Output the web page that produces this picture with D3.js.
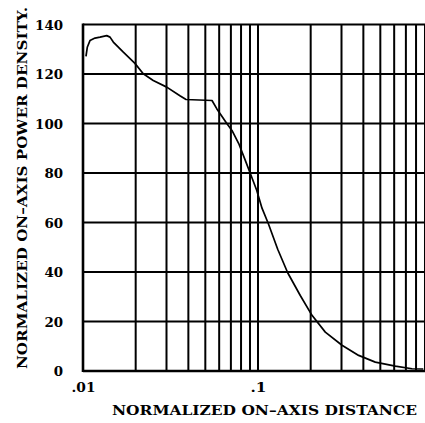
<!DOCTYPE html>
<html>
<head>
<meta charset="utf-8">
<script src="https://cdn.jsdelivr.net/npm/d3@7"></script>
<style>
  html, body { margin: 0; padding: 0; background: #fff; }
  svg { display: block; }
  .tick text { font-family: "DejaVu Serif", serif; font-weight: bold; fill: #000; }
</style>
</head>
<body>
<svg id="chart" width="425" height="423"></svg>
<script>
// Normalized on-axis distance (log scale) and normalized power density
const distance = [0.01040, 0.01058, 0.01096, 0.01171, 0.01251, 0.01366, 0.01427, 0.01490,
  0.01700, 0.01980, 0.02210, 0.02520, 0.03010, 0.03580, 0.03880, 0.05460, 0.05810,
  0.06650, 0.07100, 0.07760, 0.08460, 0.09200, 0.09830, 0.1054, 0.1145, 0.1296,
  0.1478, 0.1744, 0.2035, 0.2424, 0.302, 0.376, 0.468, 0.609, 0.759, 0.880];
const density = [127.1, 130.8, 133.5, 134.5, 134.9, 135.5, 134.9, 132.9,
  128.8, 124.3, 120.1, 117.4, 114.7, 111.2, 109.7, 109.3, 106.0,
  99.9, 97.2, 91.9, 85.1, 78.4, 73.0, 65.8, 59.6, 49.2,
  39.7, 30.5, 22.5, 15.7, 10.4, 6.3, 3.6, 2.0, 0.9, 0.8];

// Grid positions and tick labels
const xGrid = [0.02, 0.03, 0.04, 0.05, 0.06, 0.07, 0.08, 0.09, 0.1,
  0.2, 0.3, 0.4, 0.5, 0.6, 0.7, 0.8, 0.9, 1];
const xTicks = [0.01, 0.1];
const xTickLabels = [".01", ".1"];
const yTicks = [0, 20, 40, 60, 80, 100, 120, 140];

const xTitle = "NORMALIZED ON\u2013AXIS DISTANCE";
const yTitle = "NORMALIZED ON\u2013AXIS POWER DENSITY.";

const svg = d3.select("#chart");
const x = d3.scaleLog().domain([0.01, 1]).range([83, 433]);
const y = d3.scaleLinear().domain([0, 140]).range([371, 24.5]);

const grid = svg.append("g").attr("stroke", "#000");

// horizontal grid lines
grid.selectAll("line.h").data(yTicks).join("line")
  .attr("class", "h")
  .attr("x1", x(0.01)).attr("x2", x(1))
  .attr("y1", d => y(d)).attr("y2", d => y(d))
  .attr("stroke-width", d => d === 0 ? 2.6 : 2);

// vertical grid lines
grid.selectAll("line.v").data(xGrid).join("line")
  .attr("class", "v")
  .attr("x1", d => x(d)).attr("x2", d => x(d))
  .attr("y1", y(140)).attr("y2", y(0))
  .attr("stroke-width", 2);

// left frame
grid.append("line")
  .attr("x1", x(0.01)).attr("x2", x(0.01))
  .attr("y1", y(140) - 1).attr("y2", y(0) + 1)
  .attr("stroke-width", 2.6);

// axes (labels only)
const yAxis = d3.axisLeft(y).tickValues(yTicks).tickSize(0).tickPadding(20);
const gy = svg.append("g").attr("transform", `translate(${x(0.01)},0)`).call(yAxis);
gy.select(".domain").remove();
gy.selectAll(".tick text").attr("font-size", 13).attr("dy", "0.36em")
  .attr("textLength", d => String(d).length * 9.3)
  .attr("lengthAdjust", "spacingAndGlyphs");

const xAxis = d3.axisBottom(x).tickValues(xTicks).tickSize(0).tickPadding(12)
  .tickFormat((d, i) => xTickLabels[i]);
const gx = svg.append("g").attr("transform", `translate(0,${y(0)})`).call(xAxis);
gx.select(".domain").remove();
gx.selectAll(".tick text").attr("font-size", 12)
  .attr("textLength", (d, i) => xTickLabels[i].length * 8)
  .attr("lengthAdjust", "spacingAndGlyphs");

// curve
const line = d3.line().x((d, i) => x(distance[i])).y(d => y(d));
svg.append("path")
  .datum(density)
  .attr("d", line)
  .attr("fill", "none")
  .attr("stroke", "#000")
  .attr("stroke-width", 1.7)
  .attr("stroke-linejoin", "round");

// axis titles
svg.append("text")
  .attr("x", 112).attr("y", 415)
  .attr("font-family", "DejaVu Serif, serif").attr("font-weight", "bold")
  .attr("font-size", 12)
  .attr("textLength", 305).attr("lengthAdjust", "spacingAndGlyphs")
  .text(xTitle);

svg.append("text")
  .attr("transform", "translate(27,369) rotate(-90)")
  .attr("font-family", "DejaVu Serif, serif").attr("font-weight", "bold")
  .attr("font-size", 12)
  .attr("textLength", 362).attr("lengthAdjust", "spacingAndGlyphs")
  .text(yTitle);
</script>
</body>
</html>
